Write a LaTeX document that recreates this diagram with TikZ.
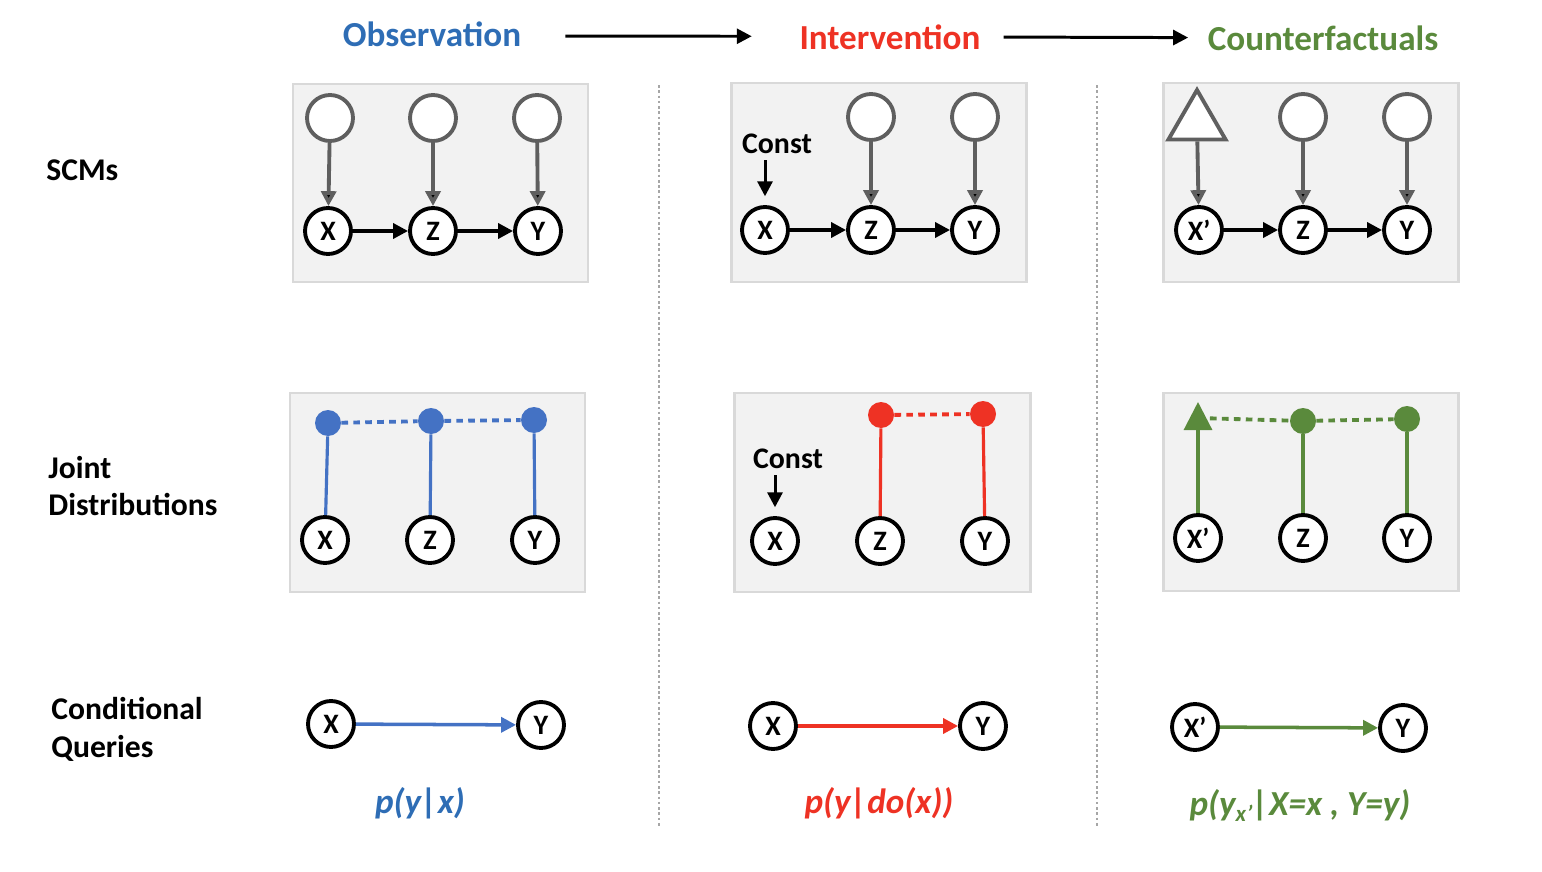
\documentclass[tikz,border=0pt]{standalone}
\usepackage{fontspec}
\setmainfont{Carlito}
\usetikzlibrary{arrows.meta,positioning,shapes.geometric}

\definecolor{obsblue}{HTML}{4472C4}
\definecolor{obstext}{HTML}{2E6DB5}
\definecolor{intred}{HTML}{EE3224}
\definecolor{cfgreen}{HTML}{5A8A3C}
\definecolor{exogray}{HTML}{5F5F5F}
\definecolor{panelfill}{HTML}{F2F2F2}
\definecolor{panelline}{HTML}{D9D9D9}
\definecolor{sepgray}{HTML}{A6A6A6}

\tikzset{
  title/.style={inner sep=0pt, font=\fontsize{20}{24}\selectfont\bfseries},
  rowlabel/.style={anchor=west, align=left, inner sep=0pt, font=\fontsize{18}{21.5}\selectfont\bfseries},
  const/.style={font=\fontsize{17}{20}\selectfont\bfseries},
  formula/.style={inner sep=0pt, font=\fontsize{20}{24}\selectfont\bfseries\itshape},
  var/.style={circle, draw=black, line width=2.2pt, fill=white, minimum size=0.92cm,
    inner sep=0pt, font=\fontsize{16}{16}\selectfont\bfseries},
  exo/.style={circle, draw=exogray, line width=2.2pt, fill=white, minimum size=0.92cm},
  noisetri/.style={regular polygon, regular polygon sides=3, draw=exogray, line width=2.2pt,
    fill=white, minimum size=1.32cm, inner sep=0pt},
  dot/.style={circle, minimum size=0.52cm, inner sep=0pt},
  panel/.style={draw=panelline, fill=panelfill, line width=1.7pt},
  sep/.style={draw=sepgray, line width=1pt, dash pattern=on 1.5pt off 1.5pt},
  noise/.style={->, draw=exogray, line width=2.2pt},
  cause/.style={->, draw=black, line width=2pt},
  bond/.style={line width=1.8pt},
  link/.style={line width=2.2pt, dash pattern=on 3.8pt off 3pt},
  query/.style={->, line width=2pt}
}

\begin{document}
\begin{tikzpicture}[x=0.02cm, y=-0.02cm, >={Triangle[length=8.5pt,width=8.5pt]}]
    \useasboundingbox (0,0) rectangle (1542,872);

    % column titles
    \node[title, text=obstext] (obs) at (432,34) {Observation};
    \node[title, text=intred]  (int) at (890,37) {Intervention};
    \node[title, text=cfgreen] (cf)  at (1323,38) {Counterfactuals};
    \draw[->, line width=1.7pt, shorten <=25pt, shorten >=27pt] ([yshift=-1.2pt]obs.east) -- ([yshift=0.4pt]int.west);
    \draw[->, line width=1.7pt, shorten <=13pt, shorten >=11pt] (int.east) -- ([yshift=0.2pt]cf.west);

    % row labels
    \node[rowlabel] (scm) at (46,170) {SCMs};
    \node[rowlabel] (jd)  at (48,486) {Joint\\Distributions};
    \node[rowlabel] (cq)  at (51,729) {Conditional\\Queries};

    % panels and separators
    \draw[panel] (293,84) rectangle (588,282);
    \draw[panel] (731,83) rectangle (1026,282);
    \draw[panel] (1163,83) rectangle (1458,282);
    \draw[panel] (290,393) rectangle (585,592);
    \draw[panel] (734,393) rectangle (1030,592);
    \draw[panel] (1163,393) rectangle (1458,591);
    \draw[sep] (659,85) -- (659,828);
    \draw[sep] (1097,85) -- (1097,828);

    % SCMs
    \node[exo] (ou1) at (330,118) {};
    \node[exo] (ou2) at (433,118) {};
    \node[exo] (ou3) at (537,118) {};
    \node[var] (ox)  at (328,231) {X};
    \node[var] (oz)  at (433,231) {Z};
    \node[var] (oy)  at (538,231) {Y};
    \path[noise] (ou1) edge (ox) (ou2) edge (oz) (ou3) edge (oy);
    \path[cause] (ox) edge (oz) (oz) edge (oy);

    \node[const] (ic) at (777,144) {Const};
    \node[exo] (iu2) at (871,117) {};
    \node[exo] (iu3) at (975,117) {};
    \node[var] (ix)  at (765,230) {X};
    \node[var] (iz)  at (871,230) {Z};
    \node[var] (iy)  at (975,230) {Y};
    \draw[cause, line width=1.7pt, shorten >=5pt] (ic.south -| ix) -- (ix);
    \path[noise] (iu2) edge (iz) (iu3) edge (iy);
    \path[cause] (ix) edge (iz) (iz) edge (iy);

    \node[noisetri] (cu1) at (1197,123) {};
    \node[exo] (cu2) at (1303,117) {};
    \node[exo] (cu3) at (1407,117) {};
    \node[var] (cx)  at (1199,230) {X’};
    \node[var] (cz)  at (1303,230) {Z};
    \node[var] (cy)  at (1407,230) {Y};
    \path[noise] (cu1) edge (cx) (cu2) edge (cz) (cu3) edge (cy);
    \path[cause] (cx) edge (cz) (cz) edge (cy);

    % joint distributions
    \node[dot, fill=obsblue] (od1) at (328,423) {};
    \node[dot, fill=obsblue] (od2) at (431,421) {};
    \node[dot, fill=obsblue] (od3) at (534,420) {};
    \node[var] (jox) at (325,540) {X};
    \node[var] (joz) at (430,540) {Z};
    \node[var] (joy) at (535,540) {Y};
    \path[bond, obsblue] (od1) edge (jox) (od2) edge (joz) (od3) edge (joy);
    \path[link, obsblue] (od1) edge (od2) (od2) edge (od3);

    \node[const] (jic) at (788,459) {Const};
    \node[dot, fill=intred] (id2) at (881,415) {};
    \node[dot, fill=intred] (id3) at (983,414) {};
    \node[var] (jix) at (775,541) {X};
    \node[var] (jiz) at (880,541) {Z};
    \node[var] (jiy) at (985,541) {Y};
    \draw[cause, line width=1.7pt, shorten >=5pt] (jic.south -| jix) -- (jix);
    \path[bond, intred] (id2) edge (jiz) (id3) edge (jiy);
    \path[link, intred] (id2) edge (id3);

    \coordinate (ctip)  at (1198,402);
    \coordinate (cjoin) at (1198,418);
    \node[dot, fill=cfgreen] (cd2) at (1303,421) {};
    \node[dot, fill=cfgreen] (cd3) at (1407,419) {};
    \node[var] (jcx) at (1198,538) {X’};
    \node[var] (jcz) at (1303,538) {Z};
    \node[var] (jcy) at (1407,538) {Y};
    \path[link, cfgreen] (cjoin) edge (cd2) (cd2) edge (cd3);
    \draw[bond, cfgreen, -{Triangle[length=16pt,width=16pt]}] (jcx) -- (ctip);
    \path[bond, cfgreen] (cd2) edge (jcz) (cd3) edge (jcy);

    % conditional queries
    \node[var] (qox) at (331,724) {X};
    \node[var] (qoy) at (541,725) {Y};
    \draw[query, obsblue] (qox) -- (qoy);
    \node[formula, text=obstext] (qo) at (420,803) {p(y|x)};

    \node[var] (qix) at (773,726) {X};
    \node[var] (qiy) at (983,726) {Y};
    \draw[query, intred] (qix) -- (qiy);
    \node[formula, text=intred] (qi) at (879,803) {p(y|do(x))};

    \node[var] (qcx) at (1195,727) {X’};
    \node[var] (qcy) at (1403,728) {Y};
    \draw[query, cfgreen] (qcx) -- (qcy);
    \node[formula, text=cfgreen] (qc) at (1300,805)
      {p(y\raisebox{-0.35ex}{\fontsize{13}{13}\selectfont x’}|X=x , Y=y)};
\end{tikzpicture}
\end{document}
